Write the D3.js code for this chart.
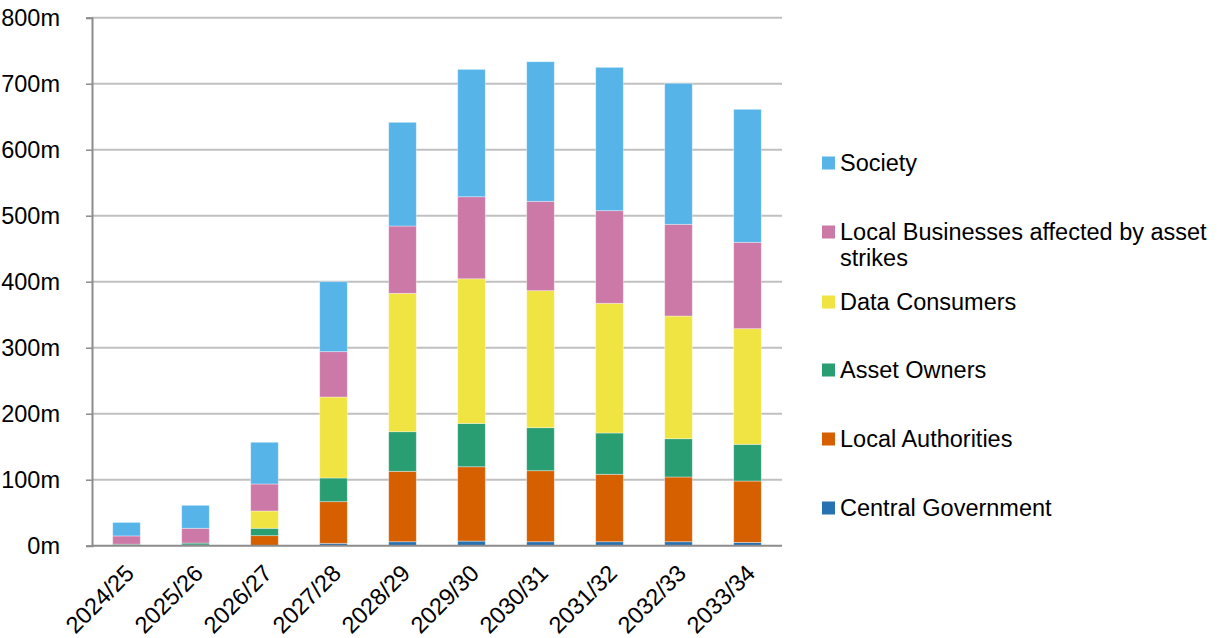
<!DOCTYPE html>
<html>
<head>
<meta charset="utf-8">
<script src="https://cdn.jsdelivr.net/npm/d3@7/dist/d3.min.js"></script>
<style>
  html, body { margin: 0; padding: 0; background: #fff; }
  svg { display: block; font-family: "Liberation Sans", Arial, sans-serif; }
</style>
</head>
<body>
<svg id="chart" width="1223" height="638"></svg>
<script>
// Annual benefits by beneficiary group (£ millions)
const years = ["2024/25","2025/26","2026/27","2027/28","2028/29","2029/30","2030/31","2031/32","2032/33","2033/34"];
const centralGovernment = [0.3, 0.3, 0.5, 3.6, 6, 7, 6, 6, 6, 5];
const localAuthorities  = [0.5, 0.7, 14.7, 63.1, 106.7, 112.6, 107.6, 102.2, 98.1, 93];
const assetOwners       = [1.5, 3, 11.2, 35.9, 60, 65.7, 65.2, 62.6, 58, 55.6];
const dataConsumers     = [0, 0, 26.2, 122.7, 209.7, 219.1, 207.6, 196.5, 185.9, 175.2];
const localBusinesses   = [12.5, 22.4, 40.9, 68.7, 102, 124.3, 135.4, 140.3, 139, 130.9];
const society           = [20.5, 34.8, 63.2, 106, 157.1, 193, 211.5, 217.2, 213.6, 201.5];
const yTicks = [0, 100, 200, 300, 400, 500, 600, 700, 800];

// Series from bottom of stack to top
const series = [
  { key: "cg",  name: "Central Government", values: centralGovernment, color: "#2671B1" },
  { key: "la",  name: "Local Authorities", values: localAuthorities, color: "#D65F00" },
  { key: "ao",  name: "Asset Owners", values: assetOwners, color: "#2A9E73" },
  { key: "dc",  name: "Data Consumers", values: dataConsumers, color: "#F0E442" },
  { key: "lb",  name: "Local Businesses affected by asset strikes", values: localBusinesses, color: "#CC79A7" },
  { key: "soc", name: "Society", values: society, color: "#56B4E9" }
];

const rows = years.map((y, i) => {
  const r = { year: y };
  series.forEach(s => { r[s.key] = s.values[i]; });
  return r;
});

const FS = 23.5;
const svg = d3.select("#chart");
const m = { left: 92, right: 782, top: 17.7, bottom: 545.7 };

const x = d3.scaleBand().domain(years).range([m.left, m.right]).paddingInner(0.6).paddingOuter(0.3);
const y = d3.scaleLinear().domain([0, 800]).range([m.bottom, m.top]);

// Gridlines
svg.append("g")
  .selectAll("line")
  .data(yTicks.filter(t => t > 0))
  .join("line")
  .attr("x1", m.left).attr("x2", m.right)
  .attr("y1", d => y(d)).attr("y2", d => y(d))
  .attr("stroke", "#C0C0C0").attr("stroke-width", 2);

// Stacked bars
const stack = d3.stack().keys(series.map(s => s.key));
const layers = stack(rows);
svg.append("g")
  .selectAll("g")
  .data(layers)
  .join("g")
  .attr("fill", (d, i) => series[i].color)
  .selectAll("rect")
  .data(d => d)
  .join("rect")
  .attr("x", d => x(d.data.year))
  .attr("width", x.bandwidth())
  .attr("y", d => y(d[1]))
  .attr("height", d => Math.max(0, y(d[0]) - y(d[1])))
  .attr("stroke", "rgba(255,255,255,0.45)")
  .attr("stroke-width", 0.8);

// Y axis
const yAxis = d3.axisLeft(y).tickValues(yTicks).tickFormat(d => d + "m").tickSize(6).tickPadding(26);
const gy = svg.append("g").attr("transform", `translate(${m.left},0)`).call(yAxis);
gy.select(".domain").attr("stroke", "#8C8C8C").attr("stroke-width", 2);
gy.selectAll(".tick line").attr("stroke", "#8C8C8C").attr("stroke-width", 1.5);
gy.selectAll("text").attr("font-size", FS).attr("fill", "#000")
  .attr("font-family", "Liberation Sans, Arial, sans-serif");

// X axis
const xAxis = d3.axisBottom(x).tickSize(0).tickPadding(0);
const gx = svg.append("g").attr("transform", `translate(0,${m.bottom})`).call(xAxis);
gx.select(".domain").attr("stroke", "#8C8C8C").attr("stroke-width", 2)
  .attr("d", `M${m.left},0H${m.right}`);
gx.selectAll("text")
  .attr("font-size", FS).attr("fill", "#000")
  .attr("font-family", "Liberation Sans, Arial, sans-serif")
  .attr("text-anchor", "end")
  .attr("dy", "0")
  .attr("transform", "translate(9,29) rotate(-45)");

// Legend (top entry is the top of the stack)
const legendItems = series.slice().reverse();
const legend = svg.append("g").attr("font-size", FS);
const lineY = [163, 232, 302, 370, 439, 508];
legendItems.forEach((s, i) => {
  const g = legend.append("g").attr("transform", `translate(822,${lineY[i]})`);
  g.append("rect").attr("x", 0).attr("y", -6.5).attr("width", 13).attr("height", 13).attr("fill", s.color);
  const t = g.append("text").attr("x", 18).attr("y", 0).attr("dy", "0.36em").attr("fill", "#000");
  if (s.key === "lb") {
    t.append("tspan").attr("x", 18).text("Local Businesses affected by asset");
    t.append("tspan").attr("x", 18).attr("dy", "1.1em").text("strikes");
  } else {
    t.text(s.name);
  }
});
</script>
</body>
</html>
